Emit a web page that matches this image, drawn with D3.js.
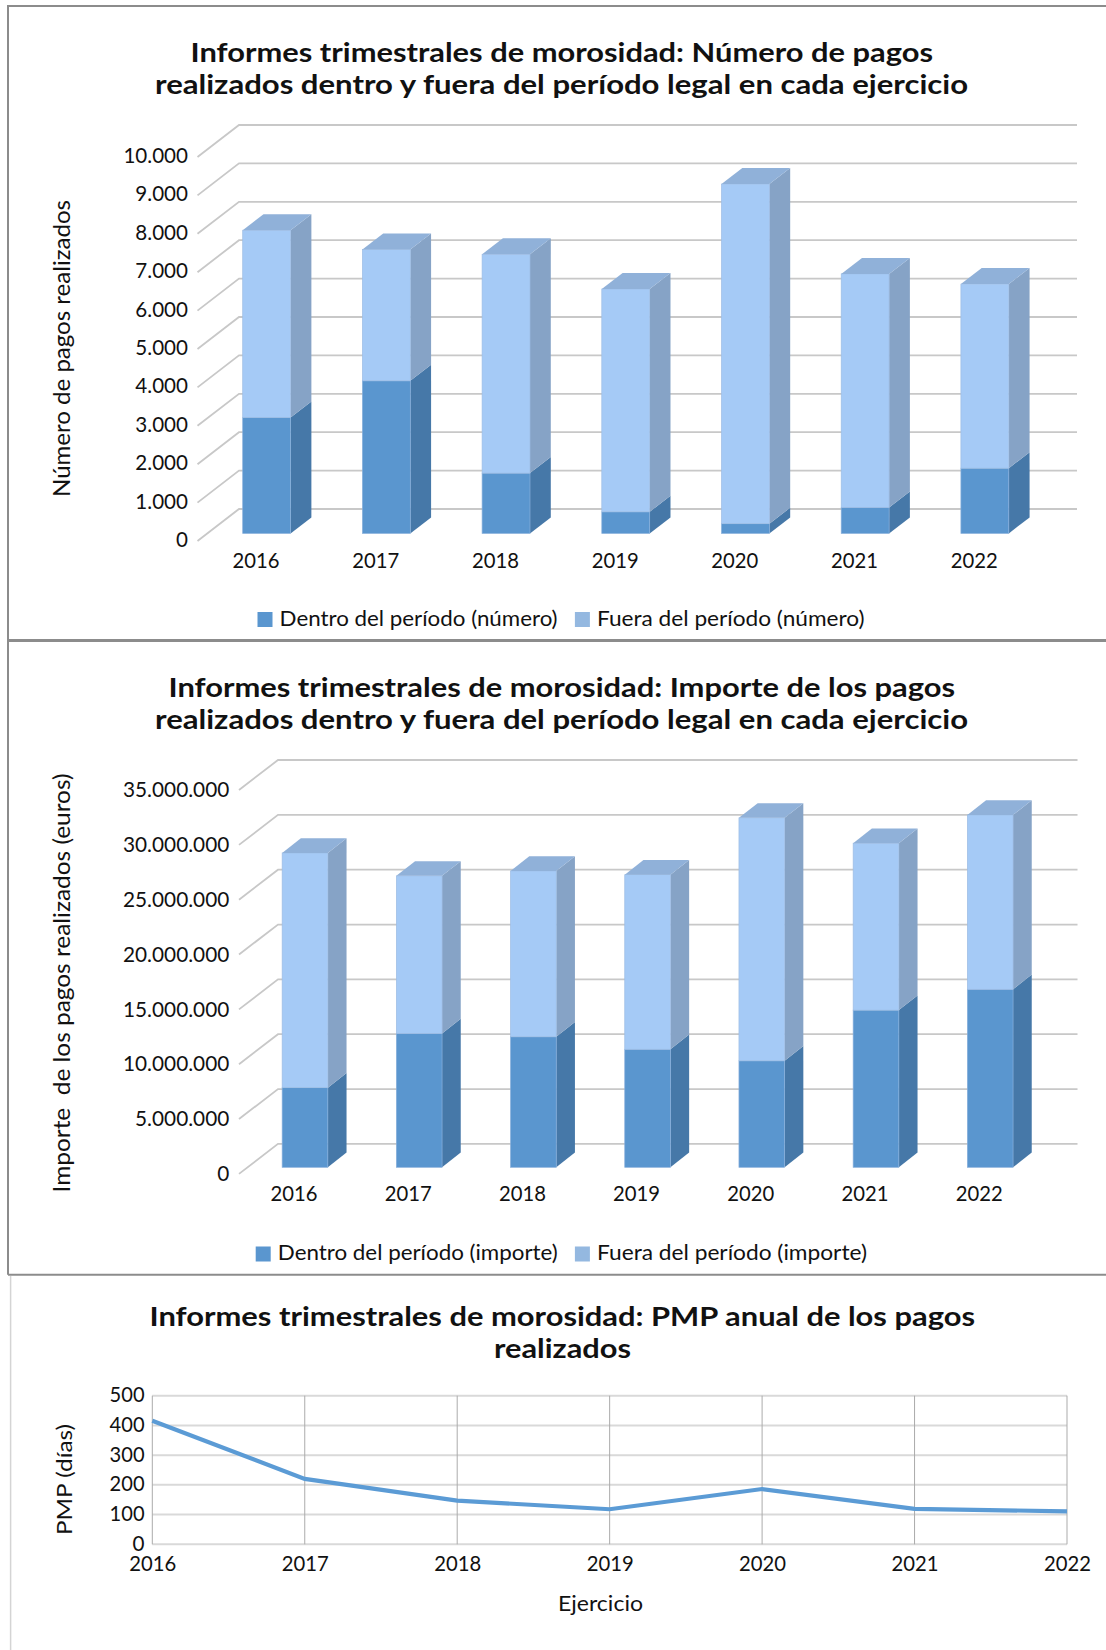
<!DOCTYPE html>
<html lang="es">
<head>
<meta charset="utf-8">
<title>Informes trimestrales de morosidad</title>
<script src="https://d3js.org/d3.v7.min.js"></script>
<style>
  body { margin: 0; background: #fff; }
  svg { display: block; }
  text { font-family: Lato, "Open Sans", sans-serif; fill: #111; white-space: pre; }
</style>
</head>
<body>
<svg width="1106" height="1650"></svg>
<script>
// data
var years = ["2016", "2017", "2018", "2019", "2020", "2021", "2022"];

var numDentro = [3020, 3974, 1570, 562, 253, 677, 1698];
var numFuera = [4876, 3422, 5698, 5803, 8844, 6081, 4794];

var impDentro = [7260000, 12200000, 11900000, 10760000, 9710000, 14330000, 16230000];
var impFuera = [21400000, 14370000, 15120000, 15920000, 22150000, 15220000, 15890000];

var pmpDias = [416, 220, 147, 118, 186, 119, 111];

var numTicks = [0, 1000, 2000, 3000, 4000, 5000, 6000, 7000, 8000, 9000, 10000];
var impTicks = [0, 5000000, 10000000, 15000000, 20000000, 25000000, 30000000, 35000000];
var pmpTicks = [0, 100, 200, 300, 400, 500];

var colDentro = { front: "#5A96CF", side: "#4678A8", swatch: "#5A96CF", edge: "#86AEDB" };
var colFuera = { front: "#A5CAF6", side: "#86A3C6", top: "#90B1D9", swatch: "#94B8E0", edge: "#9DBDE4" };

var svg = d3.select("svg");
var esFormat = d3.formatLocale({ decimal: ",", thousands: ".", grouping: [3], currency: ["", " €"] }).format(",");
var path = d3.line();

// text squeezed or stretched to the width it has in the picture
function label(g, txt, x, y, size, width, opt) {
  opt = opt || {};
  var t = g.append("text")
    .attr("x", x).attr("y", y)
    .attr("font-size", size)
    .attr("text-anchor", opt.anchor || "start")
    .attr("font-weight", opt.bold ? 700 : 400)
    .text(txt);
  if (width) t.attr("textLength", width).attr("lengthAdjust", "spacingAndGlyphs");
  if (opt.rotate) t.attr("transform", "rotate(-90 " + x + " " + y + ")");
  return t;
}

function fitTicks(sel, size, widthOf) {
  sel.selectAll("text")
    .attr("font-size", size)
    .each(function () {
      var w = widthOf(this.textContent);
      if (w) d3.select(this).attr("textLength", w).attr("lengthAdjust", "spacingAndGlyphs");
    });
}

function bars3d(c) {
  var g = svg.append("g");

  var y = d3.scaleLinear().domain([0, c.max]).range([c.y0, c.yTop]);
  var x = d3.scaleBand().domain(years).range(c.xRange).paddingInner(c.padInner).paddingOuter(c.padInner / 2);

  // frame
  g.append("path")
    .attr("d", "M" + c.frame[0] + "," + c.frame[3] + "V" + c.frame[1] + "H" + c.frame[2])
    .attr("fill", "none").attr("stroke", "#8c8c8c").attr("stroke-width", 2);
  g.append("line")
    .attr("x1", c.frame[0]).attr("x2", c.frame[2])
    .attr("y1", c.frame[3]).attr("y2", c.frame[3])
    .attr("stroke", "#8c8c8c").attr("stroke-width", 2);

  // gridlines on the back wall and the slanted part on the left
  var grid = g.append("g").attr("fill", "none").attr("stroke", "#C8C8C8").attr("stroke-width", 1.8);
  grid.selectAll("path").data(c.ticks).join("path")
    .attr("d", function (d) {
      return path([[c.axisX, y(d)], [c.axisX + c.wallDx, y(d) - c.wallDy], [c.gridEnd, y(d) - c.wallDy]]);
    });

  // y axis labels only, the gridlines above stand in for the ticks
  var yAxis = d3.axisLeft(y).tickValues(c.ticks).tickFormat(esFormat).tickSize(0).tickPadding(0);
  var ya = g.append("g").attr("transform", "translate(" + c.labelRight + "," + c.labelDy + ")").call(yAxis);
  ya.select(".domain").remove();
  fitTicks(ya, c.tickSize, function () { return null; });

  // stacked bars
  var stack = d3.stack().keys([0, 1]).value(function (d, k) { return d[k]; });
  var rows = years.map(function (yr, i) { return [c.dentro[i], c.fuera[i]]; });
  var layers = stack(rows);
  var base = c.y0 - c.barLift;
  var styles = [colDentro, colFuera];

  layers.forEach(function (layer, s) {
    var st = styles[s];
    var bar = g.append("g").selectAll("g").data(layer).join("g");

    bar.append("path")
      .attr("fill", st.side)
      .attr("d", function (d, i) {
        var xr = x(years[i]) + x.bandwidth();
        var t = y(d[1]) - c.barLift, b = y(d[0]) - c.barLift;
        return path([[xr, t], [xr + c.barDx, t - c.barDy], [xr + c.barDx, b - c.barDy], [xr, b]]) + "Z";
      });

    bar.append("rect")
      .attr("x", function (d, i) { return x(years[i]); })
      .attr("width", x.bandwidth())
      .attr("y", function (d) { return y(d[1]) - c.barLift; })
      .attr("height", function (d) { return y(d[0]) - y(d[1]); })
      .attr("fill", st.front)
      .attr("stroke", st.edge).attr("stroke-width", 0.7);

    if (st.top) {
      bar.append("path")
        .attr("fill", st.top)
        .attr("d", function (d, i) {
          var xl = x(years[i]), xr = xl + x.bandwidth();
          var t = y(d[1]) - c.barLift;
          return path([[xl, t], [xl + c.barDx, t - c.barDy], [xr + c.barDx, t - c.barDy], [xr, t]]) + "Z";
        });
    }
  });

  // x axis labels sit a bit left of the bars
  var xAxis = d3.axisBottom(x).tickSize(0).tickPadding(0);
  var xa = g.append("g").attr("transform", "translate(" + c.xLabelShift + "," + (base + c.xLabelGap) + ")").call(xAxis);
  xa.select(".domain").remove();
  fitTicks(xa, c.tickSize, function () { return 47; });

  // titles
  c.title.forEach(function (t) {
    label(g, t.text, t.x, t.y, 27, t.w, { bold: true });
  });
  label(g, c.yTitle.text, c.yTitle.x, c.yTitle.y, 23, c.yTitle.w, { rotate: true });

  // legend
  c.legend.forEach(function (l, i) {
    g.append("rect")
      .attr("x", l.sx).attr("y", l.sy).attr("width", 15).attr("height", 15)
      .attr("fill", styles[i].swatch);
    label(g, l.text, l.tx, l.ty, 21, l.w);
  });
}

bars3d({
  dentro: numDentro, fuera: numFuera, ticks: numTicks, max: 10000,
  frame: [8, 6, 1106, 640],
  y0: 541, yTop: 157, axisX: 197.5, wallDx: 41.5, wallDy: 32, gridEnd: 1077,
  barLift: 7.6, barDx: 20.8, barDy: 16,
  xRange: [206.8, 1044.7], padInner: 0.6,
  labelRight: 188, labelDy: -1, tickSize: 20.6, xLabelShift: -10.6, xLabelGap: 20,
  title: [
    { text: "Informes trimestrales de morosidad: Número de pagos", x: 190.5, y: 62.4, w: 742.5 },
    { text: "realizados dentro y fuera del período legal en cada ejercicio", x: 155, y: 94, w: 813 }
  ],
  yTitle: { text: "Número de pagos realizados", x: 70, y: 497, w: 297 },
  legend: [
    { text: "Dentro del período (número)", sx: 257.5, sy: 612, tx: 279.6, ty: 625.7, w: 278 },
    { text: "Fuera del período (número)", sx: 574.9, sy: 612, tx: 597, ty: 625.7, w: 267.5 }
  ]
});

bars3d({
  dentro: impDentro, fuera: impFuera, ticks: impTicks, max: 35000000,
  frame: [8, 641, 1106, 1274.7],
  y0: 1173.9, yTop: 790, axisX: 239, wallDx: 39, wallDy: 30, gridEnd: 1077.5,
  barLift: 6.6, barDx: 18.7, barDy: 14.7,
  xRange: [247.9, 1047.3], padInner: 0.6,
  labelRight: 229.3, labelDy: 0, tickSize: 20.8, xLabelShift: -11, xLabelGap: 18.5,
  title: [
    { text: "Informes trimestrales de morosidad: Importe de los pagos", x: 168.5, y: 697, w: 786.5 },
    { text: "realizados dentro y fuera del período legal en cada ejercicio", x: 155, y: 729, w: 813 }
  ],
  yTitle: { text: "Importe  de los pagos realizados (euros)", x: 70, y: 1192.5, w: 419 },
  legend: [
    { text: "Dentro del período (importe)", sx: 255.7, sy: 1246.5, tx: 277.8, ty: 1259.6, w: 280 },
    { text: "Fuera del período (importe)", sx: 574.9, sy: 1246.5, tx: 597, ty: 1259.6, w: 270 }
  ]
});

// PMP line chart
(function () {
  var g = svg.append("g");
  var left = 152.3, right = 1067, top = 1395.7, bottom = 1544.3;
  var x = d3.scalePoint().domain(years).range([left, right]);
  var y = d3.scaleLinear().domain([0, 500]).range([bottom, top]);

  g.append("line")
    .attr("x1", 10.6).attr("x2", 10.6).attr("y1", 1276).attr("y2", 1650)
    .attr("stroke", "#d4d4d4").attr("stroke-width", 1.5);

  g.append("g").selectAll("line").data(pmpTicks).join("line")
    .attr("x1", left).attr("x2", right)
    .attr("y1", function (d) { return y(d); }).attr("y2", function (d) { return y(d); })
    .attr("stroke", "#D9D9D9").attr("stroke-width", 2);
  g.append("g").selectAll("line").data(years).join("line")
    .attr("x1", function (d) { return x(d); }).attr("x2", function (d) { return x(d); })
    .attr("y1", top).attr("y2", bottom)
    .attr("stroke", "#ABABAB").attr("stroke-width", 1);

  var yAxis = d3.axisLeft(y).tickValues(pmpTicks).tickSize(0).tickPadding(0);
  var ya = g.append("g").attr("transform", "translate(144.6,-1)").call(yAxis);
  ya.select(".domain").remove();
  fitTicks(ya, 22, function (s) { return s.length === 3 ? 35 : 12; });

  var xAxis = d3.axisBottom(x).tickSize(0).tickPadding(0);
  var xa = g.append("g").attr("transform", "translate(0,1555)").call(xAxis);
  xa.select(".domain").remove();
  fitTicks(xa, 22, function () { return 47; });

  var line = d3.line()
    .x(function (d, i) { return x(years[i]); })
    .y(function (d) { return y(d); });
  g.append("path").datum(pmpDias)
    .attr("d", line)
    .attr("fill", "none").attr("stroke", "#5B9BD5").attr("stroke-width", 4.2);

  label(g, "Informes trimestrales de morosidad: PMP anual de los pagos", 149.5, 1326, 27, 825.5, { bold: true });
  label(g, "realizados", 494, 1358, 27, 137, { bold: true });
  label(g, "Ejercicio", 558, 1610.7, 22, 85);
  label(g, "PMP (días)", 72, 1535, 22, 111, { rotate: true });
})();
</script>
</body>
</html>
